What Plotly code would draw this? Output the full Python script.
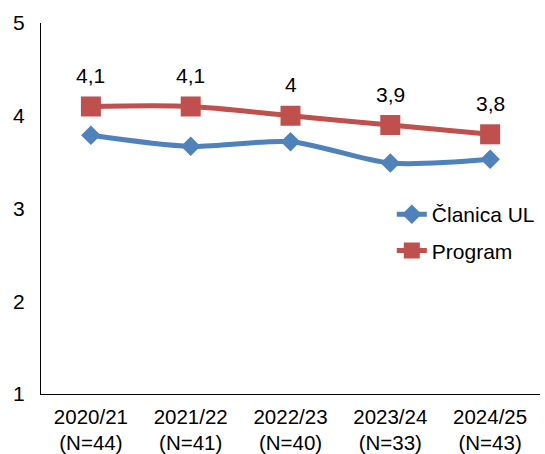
import plotly.graph_objects as go

categories = ["2020/21<br>(N=44)", "2021/22<br>(N=41)", "2022/23<br>(N=40)", "2023/24<br>(N=33)", "2024/25<br>(N=43)"]
clanica_values = [3.79, 3.67, 3.72, 3.49, 3.53]
program_values = [4.1, 4.1, 4.0, 3.9, 3.8]
y_ticks = [1, 2, 3, 4, 5]

program_labels = [f"{v:g}".replace(".", ",") for v in program_values]

FONT = "Liberation Sans, Arial, sans-serif"
FS = 21
BLUE = "#4F81BD"
RED = "#C0504D"

fig = go.Figure()
fig.add_trace(go.Scatter(
    x=categories, y=clanica_values, name="Članica UL", mode="lines+markers",
    line=dict(color=BLUE, width=5, shape="spline", smoothing=0.8),
    marker=dict(symbol="diamond", size=15, color=BLUE),
    legendgroup="a",
))
fig.add_trace(go.Scatter(
    x=categories, y=program_values, name="Program", mode="lines+markers",
    line=dict(color=RED, width=5, shape="spline", smoothing=0.8),
    marker=dict(symbol="square", size=20, color=RED),
    legendgroup="b",
))

for c, v, t in zip(categories, program_values, program_labels):
    fig.add_annotation(x=c, y=v, text=t, showarrow=False, yshift=31,
                       font=dict(family=FONT, size=FS, color="black"))

fig.update_layout(
    width=545, height=454, autosize=False,
    margin=dict(l=41, r=5, t=23, b=60),
    paper_bgcolor="white", plot_bgcolor="white",
    font=dict(family=FONT, size=FS, color="black"),
    showlegend=True,
    legend=dict(x=0.703, y=0.435, xanchor="left", yanchor="middle",
                bgcolor="rgba(0,0,0,0)", traceorder="grouped", tracegroupgap=6,
                font=dict(family=FONT, size=FS, color="black")),
    xaxis=dict(type="category", range=[-0.5, 4.5], showline=True, linecolor="black",
               linewidth=1, showgrid=False, ticks="", zeroline=False,
               ticklabelstandoff=4, automargin=False,
               tickfont=dict(family=FONT, size=20.5, color="black")),
    yaxis=dict(range=[1, 5], tickvals=y_ticks, showline=True, linecolor="black",
               linewidth=1, showgrid=False, ticks="", zeroline=False,
               ticklabelstandoff=11, automargin=False,
               tickfont=dict(family=FONT, size=FS, color="black")),
)

fig.write_html("out.html", config={"displayModeBar": False, "responsive": False},
               post_script="document.body.style.margin='0';document.body.style.overflow='hidden';")
